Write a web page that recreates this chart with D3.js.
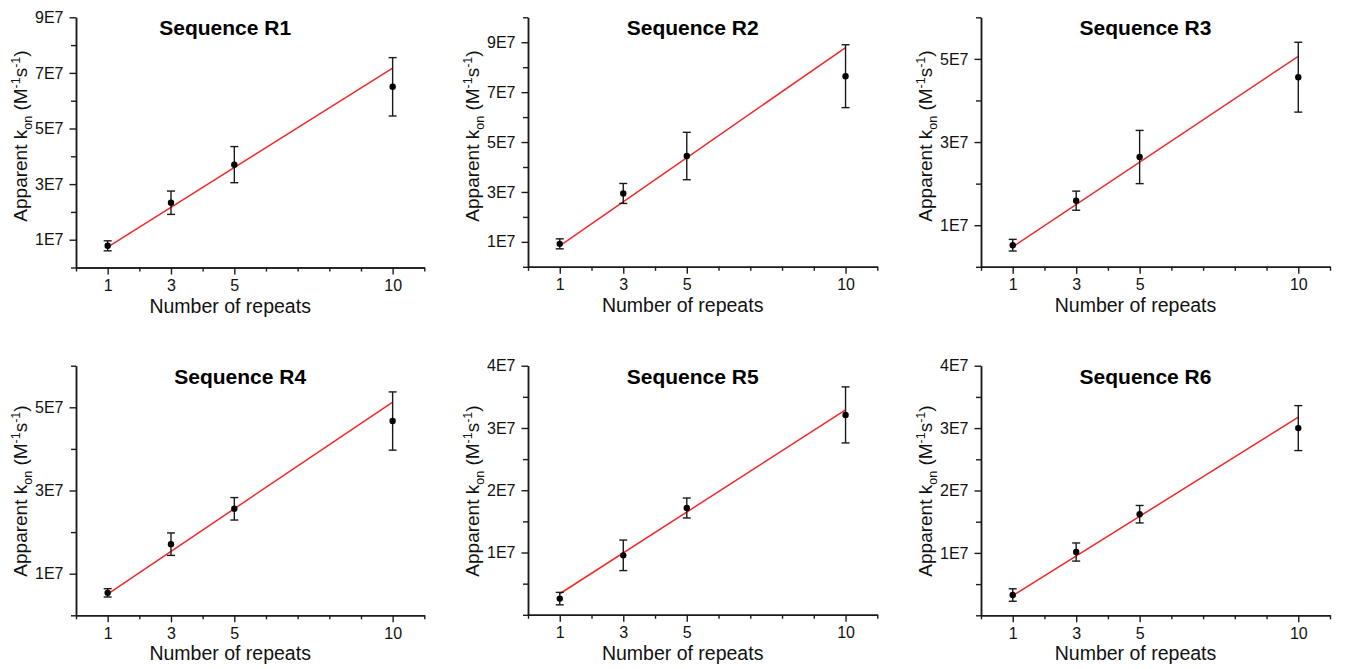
<!DOCTYPE html>
<html>
<head>
<meta charset="utf-8">
<script src="https://cdn.jsdelivr.net/npm/d3@7"></script>
<style>
  html, body { margin: 0; padding: 0; background: #fff; }
  svg { display: block; font-family: "Liberation Sans", Arial, sans-serif; }
</style>
</head>
<body>
<svg id="chart" width="1345" height="669"></svg>
<script>
// Number of repeats on the x axis
const repeats = [1, 3, 5, 10];
const xTicksMajor = [1, 3, 5, 10];
const xTicksMinor = [0, 2, 4, 6, 7, 8, 9, 11];

const titles = ["Sequence R1", "Sequence R2", "Sequence R3", "Sequence R4", "Sequence R5", "Sequence R6"];

// Apparent k_on (M^-1 s^-1), mean and error per sequence
const konR1 = [7.8e6, 2.33e7, 3.70e7, 6.50e7];
const errR1 = [1.8e6, 4.2e6, 6.5e6, 1.05e7];
const konR2 = [9.2e6, 2.94e7, 4.44e7, 7.64e7];
const errR2 = [2.0e6, 4.0e6, 9.5e6, 1.26e7];
const konR3 = [5.2e6, 1.59e7, 2.64e7, 4.56e7];
const errR3 = [1.4e6, 2.3e6, 6.4e6, 8.4e6];
const konR4 = [5.4e6, 1.71e7, 2.56e7, 4.67e7];
const errR4 = [1.0e6, 2.7e6, 2.7e6, 7.0e6];
const konR5 = [2.6e6, 9.55e6, 1.715e7, 3.21e7];
const errR5 = [1.0e6, 2.45e6, 1.6e6, 4.5e6];
const konR6 = [3.25e6, 1.014e7, 1.62e7, 3.0e7];
const errR6 = [1.0e6, 1.45e6, 1.4e6, 3.6e6];

// Linear fits: k_on = slope * repeats + intercept
const fitSlope = [7.16e6, 8.83e6, 5.09e6, 5.13e6, 3.28e6, 3.18e6];
const fitIntercept = [1.4e5, -4.3e5, -2.9e5, -3e4, 1.0e5, -4e4];

// Y axis ranges and ticks
const yMax = [9e7, 1e8, 6e7, 6e7, 4e7, 4e7];
const yTicksMajor = [
  [1e7, 3e7, 5e7, 7e7, 9e7],
  [1e7, 3e7, 5e7, 7e7, 9e7],
  [1e7, 3e7, 5e7],
  [1e7, 3e7, 5e7],
  [1e7, 2e7, 3e7, 4e7],
  [1e7, 2e7, 3e7, 4e7]
];
const yTicksMinor = [
  [0, 2e7, 4e7, 6e7, 8e7],
  [0, 2e7, 4e7, 6e7, 8e7, 1e8],
  [0, 2e7, 4e7, 6e7],
  [0, 2e7, 4e7, 6e7],
  [0, 0.5e7, 1.5e7, 2.5e7, 3.5e7],
  [0, 0.5e7, 1.5e7, 2.5e7, 3.5e7]
];
const fmtE7 = v => Math.round(v / 1e7) + "E7";

const konSets = [konR1, konR2, konR3, konR4, konR5, konR6];
const errSets = [errR1, errR2, errR3, errR4, errR5, errR6];

// Page layout of each panel's axes frame
const frames = [
  { left: 76,  right: 424.3, top: 17.3,  bottom: 267.5, titleDx: -25, labelCy: 136 },
  { left: 528, right: 877.3, top: 17.3,  bottom: 266.8, titleDx: -10, labelCy: 136 },
  { left: 981, right: 1330,  top: 17.3,  bottom: 266.8, titleDx: -10, labelCy: 136 },
  { left: 76,  right: 424.3, top: 365.7, bottom: 615.3, titleDx: -10, labelCy: 491 },
  { left: 528, right: 877.3, top: 365.7, bottom: 614.8, titleDx: -10, labelCy: 491 },
  { left: 981, right: 1330,  top: 365.7, bottom: 615.3, titleDx: -10, labelCy: 491 }
];

const svg = d3.select("#chart");
const axisColor = "#1a1a1a";

frames.forEach((f, i) => {
  const x = d3.scaleLinear().domain([0, 11]).range([f.left, f.right]);
  const y = d3.scaleLinear().domain([0, yMax[i]]).range([f.bottom, f.top]);
  const g = svg.append("g");

  // Axes: minor ticks without labels, then major ticks with labels
  const styleAxis = sel => {
    sel.select(".domain").attr("stroke", axisColor).attr("stroke-width", 1.5);
    sel.selectAll(".tick line").attr("stroke", axisColor).attr("stroke-width", 1.4);
  };

  g.append("g").attr("transform", `translate(0,${f.bottom})`)
    .call(d3.axisBottom(x).tickValues(xTicksMinor).tickSize(4).tickSizeOuter(0).tickFormat(""))
    .call(styleAxis);
  g.append("g").attr("transform", `translate(0,${f.bottom})`)
    .call(d3.axisBottom(x).tickValues(xTicksMajor).tickSize(7).tickSizeOuter(0).tickPadding(5))
    .call(styleAxis)
    .call(a => a.selectAll(".tick text").attr("font-size", 16).attr("fill", "#111")
      .attr("font-family", "Liberation Sans, Arial, sans-serif"));

  g.append("g").attr("transform", `translate(${f.left},0)`)
    .call(d3.axisLeft(y).tickValues(yTicksMinor[i]).tickSize(5).tickSizeOuter(0).tickFormat(""))
    .call(styleAxis);
  g.append("g").attr("transform", `translate(${f.left},0)`)
    .call(d3.axisLeft(y).tickValues(yTicksMajor[i]).tickSize(6.5).tickSizeOuter(0).tickPadding(6).tickFormat(fmtE7))
    .call(styleAxis)
    .call(a => a.selectAll(".tick text").attr("font-size", 16).attr("fill", "#111")
      .attr("font-family", "Liberation Sans, Arial, sans-serif"));

  // Fitted line across the measured range
  const fitLine = d3.line().x(d => x(d)).y(d => y(fitSlope[i] * d + fitIntercept[i]));
  g.append("path").datum([repeats[0], repeats[repeats.length - 1]])
    .attr("d", fitLine).attr("fill", "none")
    .attr("stroke", "#f02828").attr("stroke-width", 1.5);

  // Error bars and points
  const pts = repeats.map((r, k) => ({ r, v: konSets[i][k], e: errSets[i][k] }));
  const eb = g.append("g").attr("stroke", "#1a1a1a").attr("stroke-width", 1.4);
  eb.selectAll("line.v").data(pts).join("line").attr("class", "v")
    .attr("x1", d => x(d.r)).attr("x2", d => x(d.r))
    .attr("y1", d => y(d.v - d.e)).attr("y2", d => y(d.v + d.e));
  eb.selectAll("line.t").data(pts).join("line").attr("class", "t")
    .attr("x1", d => x(d.r) - 4).attr("x2", d => x(d.r) + 4)
    .attr("y1", d => y(d.v + d.e)).attr("y2", d => y(d.v + d.e));
  eb.selectAll("line.b").data(pts).join("line").attr("class", "b")
    .attr("x1", d => x(d.r) - 4).attr("x2", d => x(d.r) + 4)
    .attr("y1", d => y(d.v - d.e)).attr("y2", d => y(d.v - d.e));
  g.selectAll("circle").data(pts).join("circle")
    .attr("cx", d => x(d.r)).attr("cy", d => y(d.v)).attr("r", 3.2).attr("fill", "#000");

  // Panel title
  const cx = (f.left + f.right) / 2;
  g.append("text").attr("x", cx + f.titleDx).attr("y", f.top + 18)
    .attr("text-anchor", "middle").attr("font-size", 21).attr("font-weight", "bold")
    .attr("fill", "#000").text(titles[i]);

  // X axis label
  g.append("text").attr("x", cx - 20).attr("y", f.bottom + 45)
    .attr("text-anchor", "middle").attr("font-size", 19.5).attr("fill", "#111")
    .text("Number of repeats");

  // Y axis label with subscript and superscripts
  const yl = g.append("text")
    .attr("transform", `translate(${f.left - 49},${f.labelCy}) rotate(-90)`)
    .attr("text-anchor", "middle").attr("font-size", 19).attr("fill", "#111");
  yl.append("tspan").text("Apparent k");
  yl.append("tspan").attr("font-size", 12.5).attr("dy", 5).text("on");
  yl.append("tspan").attr("dy", -5).text(" (M");
  yl.append("tspan").attr("font-size", 12.5).attr("dy", -7).text("-1");
  yl.append("tspan").attr("dy", 7).text("s");
  yl.append("tspan").attr("font-size", 12.5).attr("dy", -7).text("-1");
  yl.append("tspan").attr("dy", 7).text(")");
});
</script>
</body>
</html>
